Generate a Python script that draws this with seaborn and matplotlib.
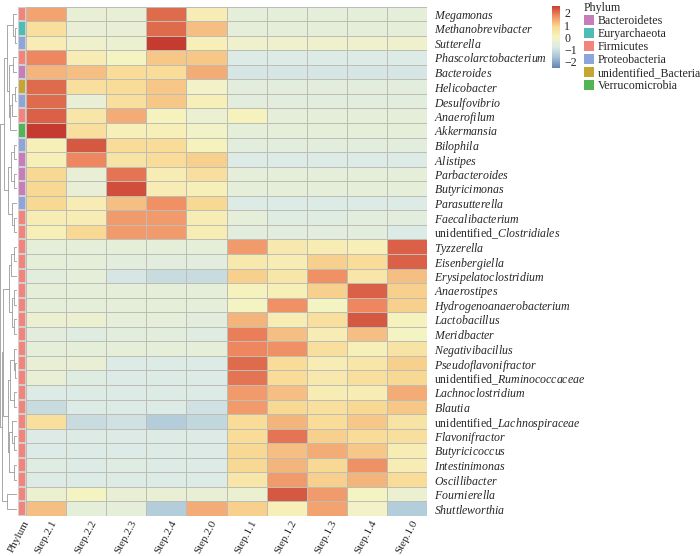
import matplotlib
matplotlib.use("Agg")
import matplotlib.pyplot as plt
from matplotlib.colors import LinearSegmentedColormap, ListedColormap
from matplotlib.patches import Patch
import numpy as np
import pandas as pd
import seaborn as sns

samples = ["Step.2.1", "Step.2.2", "Step.2.3", "Step.2.4", "Step.2.0",
           "Step.1.1", "Step.1.2", "Step.1.3", "Step.1.4", "Step.1.0"]

genera = ["Megamonas", "Methanobrevibacter", "Sutterella", "Phascolarctobacterium",
          "Bacteroides", "Helicobacter", "Desulfovibrio", "Anaerofilum", "Akkermansia",
          "Bilophila", "Alistipes", "Parbacteroides", "Butyricimonas", "Parasutterella",
          "Faecalibacterium", "unidentified_Clostridiales", "Tyzzerella", "Eisenbergiella",
          "Erysipelatoclostridium", "Anaerostipes", "Hydrogenoanaerobacterium",
          "Lactobacillus", "Meridbacter", "Negativibacillus", "Pseudoflavonifractor",
          "unidentified_Ruminococcaceae", "Lachnoclostridium", "Blautia",
          "unidentified_Lachnospiraceae", "Flavonifractor", "Butyricicoccus",
          "Intestinimonas", "Oscillibacter", "Fournierella", "Shuttleworthia"]

phylum = ["Firmicutes", "Euryarchaeota", "Proteobacteria", "Firmicutes", "Bacteroidetes",
          "unidentified_Bacteria", "Proteobacteria", "Firmicutes", "Verrucomicrobia",
          "Proteobacteria", "Bacteroidetes", "Bacteroidetes", "Bacteroidetes",
          "Proteobacteria"] + ["Firmicutes"] * 21

phylum_names = ["Bacteroidetes", "Euryarchaeota", "Firmicutes", "Proteobacteria",
                "unidentified_Bacteria", "Verrucomicrobia"]
phylum_colors = ["#C77DBA", "#4DBDB5", "#F3847C", "#8DA5DA", "#C5A633", "#52B454"]

# row z-scores
zscore = [
    [1.5, -0.4, -0.4, 2.1, 0.3, -0.5, -0.5, -0.5, -0.5, -0.5],
    [0.7, -0.4, -0.4, 2.1, 1.2, -0.5, -0.5, -0.5, -0.5, -0.5],
    [0.3, -0.2, -0.3, 2.6, 0.2, -0.2, -0.2, -0.2, -0.2, -0.2],
    [1.8, 0.3, 0.0, 1.1, 1.1, -0.8, -0.8, -0.8, -0.8, -0.8],
    [1.3, 1.2, 0.8, 0.8, 1.4, -0.9, -0.9, -0.9, -0.9, -0.9],
    [2.1, 0.7, 0.8, 1.1, -0.1, -0.6, -0.6, -0.6, -0.6, -0.6],
    [2.1, -0.4, 0.7, 1.1, 0.2, -0.6, -0.6, -0.6, -0.6, -0.6],
    [2.2, 0.5, 1.4, 0.1, -0.3, 0.1, -0.5, -0.5, -0.5, -0.5],
    [2.6, 0.7, 0.2, 0.2, -0.1, -0.5, -0.5, -0.5, -0.5, -0.5],
    [0.2, 2.3, 0.8, 0.8, 0.1, -0.6, -0.6, -0.6, -0.6, -0.6],
    [0.2, 1.8, 0.6, 0.8, 1.0, -0.8, -0.8, -0.8, -0.8, -0.8],
    [0.9, -0.4, 2.0, 0.3, 0.7, -0.5, -0.5, -0.5, -0.5, -0.5],
    [0.9, -0.4, 2.4, 0.3, 0.2, -0.5, -0.5, -0.5, -0.5, -0.5],
    [0.9, 0.3, 1.2, 1.7, 0.9, -0.8, -0.8, -0.8, -0.8, -0.8],
    [0.3, 0.3, 1.6, 1.6, 0.3, -0.5, -0.7, -0.7, -0.6, -0.6],
    [0.2, 0.9, 1.6, 1.6, 0.3, -0.6, -0.6, -0.6, -0.6, -0.8],
    [-0.5, -0.5, -0.5, -0.5, -0.5, 1.6, 0.4, 0.3, 0.2, 2.2],
    [-0.5, -0.5, -0.6, -0.6, -0.6, 0.4, 0.3, 1.0, 0.8, 2.2],
    [-0.6, -0.5, -0.9, -1.1, -1.1, 1.0, 0.5, 1.7, 0.5, 1.2],
    [-0.5, -0.5, -0.5, -0.5, -0.5, 0.1, 0.2, 1.0, 2.2, 1.0],
    [-0.5, -0.5, -0.5, -0.5, -0.5, 0.0, 1.7, 0.0, 1.8, 1.0],
    [-0.3, -0.3, -0.5, -0.5, -0.6, 1.3, 0.3, 0.7, 2.3, 0.1],
    [-0.6, -0.7, -0.6, -0.6, -0.7, 1.9, 1.2, 0.3, 1.2, 0.0],
    [-0.5, -0.5, -0.5, -0.5, -0.5, 1.8, 1.7, 0.7, 0.2, 0.6],
    [-0.4, -0.4, -0.8, -0.8, -0.8, 2.1, 0.8, 0.3, 0.5, 1.0],
    [-0.4, -0.7, -0.8, -0.8, -0.8, 2.0, 0.8, 0.4, 0.7, 0.9],
    [-0.8, -0.8, -0.8, -0.8, -0.8, 1.6, 1.2, 0.3, 0.3, 1.4],
    [-1.1, -0.8, -0.8, -0.8, -1.0, 1.6, 0.9, 0.7, 0.9, 1.1],
    [0.7, -1.1, -1.0, -1.4, -1.2, 0.8, 1.3, 0.8, 1.1, 0.6],
    [-0.8, -0.8, -0.8, -0.8, -0.8, 0.8, 2.0, 1.0, 0.8, 0.7],
    [-0.8, -0.8, -0.8, -0.8, -0.8, 0.9, 1.2, 1.4, 1.1, 0.3],
    [-0.7, -0.8, -0.7, -0.8, -0.8, 0.9, 1.3, 0.9, 1.7, 0.3],
    [-0.8, -0.8, -0.8, -0.8, -0.8, 0.5, 1.6, 1.0, 1.3, 0.8],
    [-0.3, 0.0, -0.4, -0.4, -0.4, -0.3, 2.3, 1.6, 0.0, -0.3],
    [1.2, -0.5, -0.5, -1.4, 1.4, 1.0, 0.2, 1.5, -0.1, -1.4],
]

# row clustering tree: (merge height, left, right), leaves are row indices
top_tree = (0.75,
            (0.6, (0.25, 0, (0.12, 1, 2)),
                  (0.5, (0.25, 3, 4), (0.4, (0.3, (0.1, 5, 6), 7), 8))),
            (0.55, (0.35, (0.15, 9, 10), (0.2, 11, 12)), (0.3, 13, (0.15, 14, 15))))
bottom_tree = (0.9,
               (0.8, (0.5, (0.35, (0.2, 16, 17), 18), (0.3, (0.15, 19, 20), (0.2, 21, 22))),
                     (0.55, (0.4, (0.2, 23, (0.1, 24, 25)), (0.15, 26, 27)),
                            (0.45, (0.3, 28, (0.15, 29, 30)), (0.2, 31, 32)))),
               (0.6, 33, 34))
row_tree = (1.0, top_tree, bottom_tree)

sns.set_style("white")
plt.rcParams["font.family"] = ["Liberation Serif", "DejaVu Serif"]
plt.rcParams["mathtext.fontset"] = "custom"
plt.rcParams["mathtext.rm"] = "Liberation Serif"
plt.rcParams["mathtext.it"] = "Liberation Serif:italic"

df = pd.DataFrame(zscore, index=genera, columns=samples)
cmap = LinearSegmentedColormap.from_list(
    "pheat", ["#6582B2", "#A3C0D6", "#DCEBE6", "#F6F4C0", "#F8D993", "#F08C62", "#C63B2F"])

W, H = 700, 556
fig = plt.figure(figsize=(W / 100, H / 100), dpi=100)
top_px, bot_px = 6.5, 516
y0 = 1 - bot_px / H
hh = (bot_px - top_px) / H
ax_dend = fig.add_axes([0, y0, 17 / W, hh])
ax_phy = fig.add_axes([18 / W, y0, 8 / W, hh])
ax_heat = fig.add_axes([26 / W, y0, 401 / W, hh])
ax_cbar = fig.add_axes([552 / W, 1 - 68 / H, 8 / W, 62.5 / H])

sns.heatmap(df, ax=ax_heat, cmap=cmap, vmin=-2.5, vmax=2.6,
            linewidths=0.5, linecolor="#BDBDB5", cbar_ax=ax_cbar,
            cbar_kws={"ticks": [-2, -1, 0, 1, 2]})

phy_codes = pd.DataFrame({"Phylum": [phylum_names.index(p) for p in phylum]}, index=genera)
sns.heatmap(phy_codes, ax=ax_phy, cmap=ListedColormap(phylum_colors), vmin=-0.5,
            vmax=len(phylum_names) - 0.5, cbar=False, linewidths=0.3, linecolor="#D0D0D0")

# row labels on the right, genus names in italic
def fmt(name):
    if name.startswith("unidentified_"):
        return "unidentified_$\\mathit{" + name[len("unidentified_"):] + "}$"
    return "$\\mathit{" + name + "}$"

ax_heat.yaxis.tick_right()
ax_heat.set_yticks(np.arange(len(genera)) + 0.5)
ax_heat.set_yticklabels([fmt(g) for g in genera], rotation=0, fontsize=8.6)
ax_heat.tick_params(axis="y", length=0, pad=5)
ax_heat.set_xticks(np.arange(len(samples)) + 0.6)
ax_heat.set_xticklabels(samples, rotation=62, ha="right", va="top",
                        rotation_mode="anchor", fontsize=8.0)
ax_heat.tick_params(axis="x", length=0, pad=2)
ax_heat.set_xlabel("")
ax_heat.set_ylabel("")

ax_phy.set_yticks([])
ax_phy.set_xticks([0.7])
ax_phy.set_xticklabels(["Phylum"], rotation=62, ha="right", va="top",
                       rotation_mode="anchor", fontsize=8.0)
ax_phy.tick_params(axis="x", length=0, pad=2)
ax_phy.set_ylabel("")

cbar = ax_heat.collections[0].colorbar
cbar.outline.set_visible(False)
ax_cbar.tick_params(length=0, pad=3, labelsize=8.6)


def draw_tree(node, ax):
    if isinstance(node, int):
        return node + 0.5, 0.0
    h, left, right = node
    ya, ha = draw_tree(left, ax)
    yb, hb = draw_tree(right, ax)
    ax.plot([ha, h, h, hb], [ya, ya, yb, yb], color="#9A9A9A", lw=0.6)
    return (ya + yb) / 2, h


draw_tree(row_tree, ax_dend)
ax_dend.set_xlim(1.0, 0)
ax_dend.set_ylim(len(genera), 0)
ax_dend.axis("off")

handles = [Patch(facecolor=c, edgecolor="none", label=n)
           for n, c in zip(phylum_names, phylum_colors)]
leg = fig.legend(handles=handles, title="Phylum", loc="upper left",
                 bbox_to_anchor=(579 / W, 1.005), frameon=False, fontsize=8.6,
                 title_fontsize=8.6, handlelength=0.85, handleheight=1.0,
                 handletextpad=0.35, labelspacing=0.05, borderaxespad=0)
leg._legend_box.align = "left"

fig.savefig("out.png", dpi=100)
